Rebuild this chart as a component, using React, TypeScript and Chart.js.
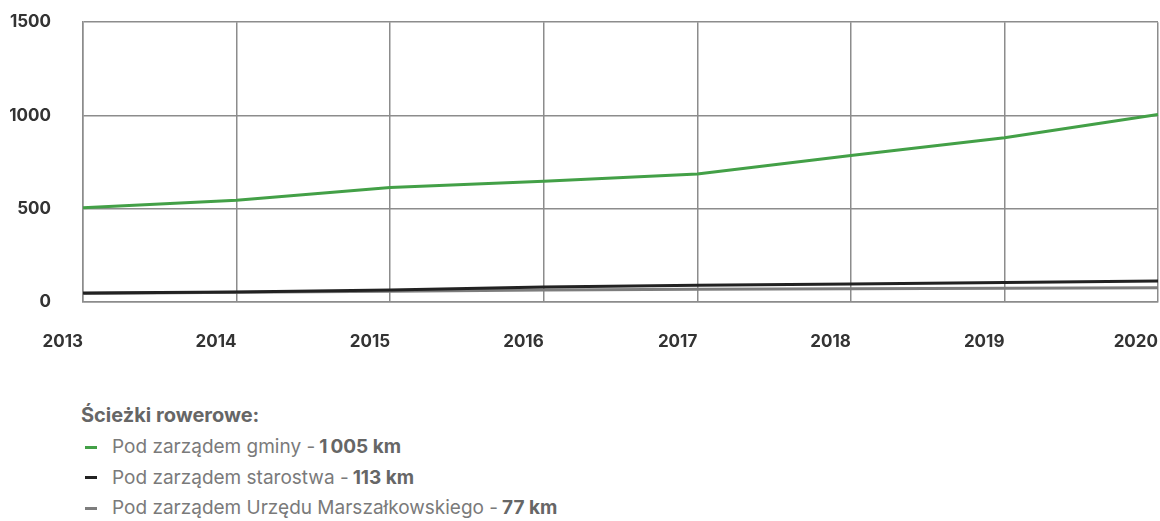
import React, { useEffect, useRef } from "react";
import { Chart, registerables } from "chart.js";

Chart.register(...registerables);

const years = ["2013", "2014", "2015", "2016", "2017", "2018", "2019", "2020"];
const gminy = [505, 546, 614, 647, 686, 785, 880, 1005];
const starostwa = [48, 54, 64, 80, 90, 97, 105, 113];
const marszalkowskie = [45, 52, 58, 64, 68, 71, 74, 77];
const yTickValues = [0, 500, 1000, 1500];

const legendTitle = "Ścieżki rowerowe:";
const seriesNames = [
  "Pod zarządem gminy",
  "Pod zarządem starostwa",
  "Pod zarządem Urzędu Marszałkowskiego",
];
const seriesTotals = ["1\u2009005 km", "113 km", "77 km"];
const seriesColors = ["#43a047", "#222222", "#7d7d7d"];

const FONT = "Inter, Roboto, 'Noto Sans', sans-serif";
const GRID = "#8c8c8c";

export default function App() {
  const canvasRef = useRef<HTMLCanvasElement | null>(null);

  useEffect(() => {
    if (!canvasRef.current) return;
    const seriesData = [gminy, starostwa, marszalkowskie];
    const chart = new Chart(canvasRef.current, {
      type: "line",
      data: {
        labels: years,
        datasets: seriesNames.map((name, i) => ({
          label: name,
          data: seriesData[i],
          borderColor: seriesColors[i],
          backgroundColor: seriesColors[i],
          borderWidth: 3,
          pointRadius: 0,
          tension: 0,
          fill: false,
        })),
      },
      options: {
        animation: false,
        responsive: true,
        maintainAspectRatio: false,
        layout: { padding: { top: 0, right: 0, left: 0, bottom: 0 } },
        plugins: { legend: { display: false }, tooltip: { enabled: false } },
        scales: {
          x: {
            type: "category",
            offset: false,
            afterFit: (s: any) => {
              s.height = 58;
            },
            grid: { color: GRID, lineWidth: 1.5, drawTicks: false },
            border: { color: GRID, width: 1.5 },
            ticks: {
              align: "end",
              padding: 30,
              color: "#333333",
              font: { family: FONT, size: 17, weight: "bold" },
              maxRotation: 0,
              autoSkip: false,
            },
          },
          y: {
            min: 0,
            max: 1500,
            afterFit: (s: any) => {
              s.width = 83;
            },
            afterBuildTicks: (s: any) => {
              s.ticks = yTickValues.map((v) => ({ value: v }));
            },
            grid: { color: GRID, lineWidth: 1.5, drawTicks: false },
            border: { color: GRID, width: 1.5 },
            ticks: {
              padding: 32,
              color: "#333333",
              font: { family: FONT, size: 17, weight: "bold" },
              callback: (v: any) => String(v),
            },
          },
        },
      },
    });
    return () => chart.destroy();
  }, []);

  return (
    <div
      style={{
        position: "absolute",
        left: 0,
        top: 0,
        width: 1160,
        height: 521,
        overflow: "hidden",
        background: "#ffffff",
        fontFamily: FONT,
      }}
    >
      <div style={{ position: "absolute", left: 0, top: -20, width: 1188, height: 380 }}>
        <canvas ref={canvasRef} />
      </div>
      <div
        style={{
          position: "absolute",
          left: 81,
          top: 404,
          fontSize: 20,
          fontWeight: 700,
          color: "#666666",
          lineHeight: "22px",
        }}
      >
        {legendTitle}
      </div>
      {seriesNames.map((name, i) => (
        <div
          key={name}
          style={{
            position: "absolute",
            left: 85,
            top: 436 + i * 30.5,
            height: 22,
            display: "flex",
            alignItems: "center",
            fontSize: 19,
            lineHeight: "22px",
            color: "#7a7a7a",
            whiteSpace: "nowrap",
          }}
        >
          <span
            style={{
              display: "inline-block",
              width: 12,
              height: 3,
              background: seriesColors[i],
              marginRight: 15,
            }}
          />
          <span style={{ fontWeight: 400 }}>{name} - </span>
          <span style={{ fontWeight: 700, color: "#666666", marginLeft: 4 }}>{seriesTotals[i]}</span>
        </div>
      ))}
    </div>
  );
}
